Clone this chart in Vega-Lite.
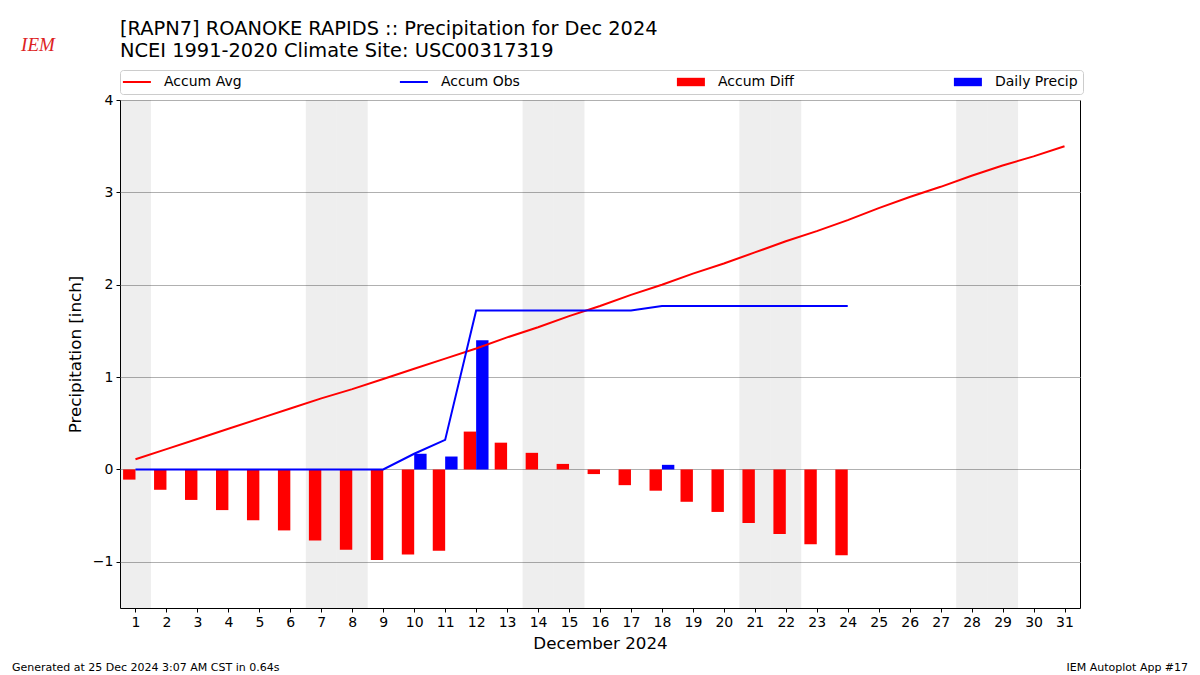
{
  "$schema": "https://vega.github.io/schema/vega-lite/v6.json",
  "width": 960,
  "height": 508,
  "autosize": {"type": "none"},
  "padding": {"left": 120, "top": 100, "right": 120, "bottom": 67},
  "background": "white",
  "config": {
    "font": "DejaVu Sans",
    "view": {"stroke": "black", "strokeWidth": 1},
    "axis": {"labelColor": "black", "titleColor": "black", "tickColor": "black"}
  },
  "title": {
    "text": ["[RAPN7] ROANOKE RAPIDS :: Precipitation for Dec 2024", "NCEI 1991-2020 Climate Site: USC00317319"],
    "anchor": "start",
    "frame": "group",
    "fontSize": 19.4,
    "fontWeight": "normal",
    "lineHeight": 22,
    "color": "black",
    "offset": -26
  },
  "datasets": {
    "days": [
      {"day": 1, "avg": 0.11, "obs": 0, "diff": -0.11, "daily": 0, "weekend": true, "footer_left": "Generated at 25 Dec 2024 3:07 AM CST in 0.64s", "footer_right": "IEM Autoplot App #17", "logo": "IEM"},
      {"day": 2, "avg": 0.22, "obs": 0, "diff": -0.22, "daily": 0, "weekend": false},
      {"day": 3, "avg": 0.33, "obs": 0, "diff": -0.33, "daily": 0, "weekend": false},
      {"day": 4, "avg": 0.44, "obs": 0, "diff": -0.44, "daily": 0, "weekend": false},
      {"day": 5, "avg": 0.55, "obs": 0, "diff": -0.55, "daily": 0, "weekend": false},
      {"day": 6, "avg": 0.66, "obs": 0, "diff": -0.66, "daily": 0, "weekend": false},
      {"day": 7, "avg": 0.77, "obs": 0, "diff": -0.77, "daily": 0, "weekend": true},
      {"day": 8, "avg": 0.87, "obs": 0, "diff": -0.87, "daily": 0, "weekend": true},
      {"day": 9, "avg": 0.98, "obs": 0, "diff": -0.98, "daily": 0, "weekend": false},
      {"day": 10, "avg": 1.09, "obs": 0.17, "diff": -0.92, "daily": 0.17, "weekend": false},
      {"day": 11, "avg": 1.20, "obs": 0.32, "diff": -0.88, "daily": 0.14, "weekend": false},
      {"day": 12, "avg": 1.31, "obs": 1.72, "diff": 0.41, "daily": 1.40, "weekend": false},
      {"day": 13, "avg": 1.43, "obs": 1.72, "diff": 0.29, "daily": 0, "weekend": false},
      {"day": 14, "avg": 1.54, "obs": 1.72, "diff": 0.18, "daily": 0, "weekend": true},
      {"day": 15, "avg": 1.66, "obs": 1.72, "diff": 0.06, "daily": 0, "weekend": true},
      {"day": 16, "avg": 1.77, "obs": 1.72, "diff": -0.05, "daily": 0, "weekend": false},
      {"day": 17, "avg": 1.89, "obs": 1.72, "diff": -0.17, "daily": 0, "weekend": false},
      {"day": 18, "avg": 2.00, "obs": 1.77, "diff": -0.23, "daily": 0.05, "weekend": false},
      {"day": 19, "avg": 2.12, "obs": 1.77, "diff": -0.35, "daily": 0, "weekend": false},
      {"day": 20, "avg": 2.23, "obs": 1.77, "diff": -0.46, "daily": 0, "weekend": false},
      {"day": 21, "avg": 2.35, "obs": 1.77, "diff": -0.58, "daily": 0, "weekend": true},
      {"day": 22, "avg": 2.47, "obs": 1.77, "diff": -0.70, "daily": 0, "weekend": true},
      {"day": 23, "avg": 2.58, "obs": 1.77, "diff": -0.81, "daily": 0, "weekend": false},
      {"day": 24, "avg": 2.70, "obs": 1.77, "diff": -0.93, "daily": 0, "weekend": false},
      {"day": 25, "avg": 2.83, "obs": null, "diff": null, "daily": null, "weekend": false},
      {"day": 26, "avg": 2.95, "obs": null, "diff": null, "daily": null, "weekend": false},
      {"day": 27, "avg": 3.06, "obs": null, "diff": null, "daily": null, "weekend": false},
      {"day": 28, "avg": 3.18, "obs": null, "diff": null, "daily": null, "weekend": true},
      {"day": 29, "avg": 3.29, "obs": null, "diff": null, "daily": null, "weekend": true},
      {"day": 30, "avg": 3.39, "obs": null, "diff": null, "daily": null, "weekend": false},
      {"day": 31, "avg": 3.50, "obs": null, "diff": null, "daily": null, "weekend": false}
    ]
  },
  "data": {"name": "days"},
  "encoding": {
    "x": {
      "field": "day",
      "type": "quantitative",
      "scale": {"domain": [0.5, 31.5], "nice": false, "zero": false, "padding": 0},
      "axis": {
        "title": "December 2024",
        "values": [1,2,3,4,5,6,7,8,9,10,11,12,13,14,15,16,17,18,19,20,21,22,23,24,25,26,27,28,29,30,31],
        "format": "d",
        "grid": false,
        "domain": false,
        "tickSize": 4,
        "labelPadding": 3,
        "labelFontSize": 14,
        "labelFlush": false,
        "labelOverlap": false,
        "titleFontSize": 16.7,
        "titleFontWeight": "normal",
        "titlePadding": 6
      }
    }
  },
  "layer": [
    {
      "transform": [{"filter": "datum.weekend"}],
      "mark": {"type": "bar", "width": 30.968, "color": "black", "opacity": 0.068},
      "encoding": {
        "y": {
          "datum": -1.5,
          "type": "quantitative",
          "scale": {"domain": [-1.5, 4], "nice": false, "zero": false, "padding": 0},
          "axis": {
            "title": "Precipitation [inch]",
            "values": [-1, 0, 1, 2, 3, 4],
            "labelExpr": "replace(format(datum.value, 'd'), '-', '\u2212')",
            "grid": true,
            "gridColor": "#b0b0b0",
            "gridWidth": 1,
            "domain": false,
            "tickSize": 4,
            "labelPadding": 3,
            "labelFontSize": 14,
            "titleFontSize": 16.7,
            "titleFontWeight": "normal",
            "titlePadding": 8
          }
        },
        "y2": {"datum": 4}
      }
    },
    {
      "transform": [{"filter": "datum.diff != null"}],
      "mark": {"type": "bar", "width": 12.4, "xOffset": -6.2},
      "encoding": {
        "y": {"field": "diff", "type": "quantitative"},
        "y2": {"datum": 0},
        "color": {"datum": "Accum Diff"}
      }
    },
    {
      "transform": [{"filter": "datum.daily > 0"}],
      "mark": {"type": "bar", "width": 12.4, "xOffset": 6.2},
      "encoding": {
        "y": {"field": "daily", "type": "quantitative"},
        "y2": {"datum": 0},
        "color": {"datum": "Daily Precip"}
      }
    },
    {
      "mark": {"type": "line", "strokeWidth": 2},
      "encoding": {
        "y": {"field": "avg", "type": "quantitative"},
        "color": {
          "datum": "Accum Avg",
          "scale": {
            "domain": ["Accum Avg", "Accum Obs", "Accum Diff", "Daily Precip"],
            "range": ["#ff0000", "#0000ff", "#ff0000", "#0000ff"]
          },
          "legend": {
            "orient": "none",
            "legendX": 0,
            "legendY": -30,
            "direction": "horizontal",
            "columns": 4,
            "gridAlign": "all",
            "columnPadding": 148,
            "padding": 5,
            "strokeColor": "#cccccc",
            "fillColor": "white",
            "cornerRadius": 3,
            "title": null,
            "labelFontSize": 14,
            "labelColor": "black",
            "labelOffset": 25,
            "labelLimit": 300,
            "symbolSize": 196,
            "encode": {
              "symbols": {
                "update": {
                  "shape": {"signal": "(datum.value == 'Accum Avg' || datum.value == 'Accum Obs') ? 'M-1.3,0H2.7' : 'M-1.3,-0.6H2.7V0.6H-1.3Z'"},
                  "fill": {"signal": "(datum.value == 'Accum Avg' || datum.value == 'Accum Obs') ? 'transparent' : (datum.value == 'Accum Diff' ? '#ff0000' : '#0000ff')"},
                  "stroke": {"signal": "(datum.value == 'Accum Avg' || datum.value == 'Accum Diff') ? '#ff0000' : '#0000ff'"},
                  "strokeWidth": {"signal": "(datum.value == 'Accum Avg' || datum.value == 'Accum Obs') ? 2 : 0"},
                  "opacity": {"value": 1}
                }
              }
            }
          }
        }
      }
    },
    {
      "transform": [{"filter": "datum.obs != null"}],
      "mark": {"type": "line", "strokeWidth": 2},
      "encoding": {
        "y": {"field": "obs", "type": "quantitative"},
        "color": {"datum": "Accum Obs"}
      }
    },
    {
      "transform": [{"filter": "datum.day == 1"}],
      "mark": {"type": "text", "align": "left", "baseline": "middle", "fontSize": 11, "color": "black", "clip": false},
      "encoding": {
        "x": {"datum": -2.99},
        "y": {"datum": -2.15},
        "text": {"field": "footer_left"}
      }
    },
    {
      "transform": [{"filter": "datum.day == 1"}],
      "mark": {"type": "text", "align": "right", "baseline": "middle", "fontSize": 11, "color": "black", "clip": false},
      "encoding": {
        "x": {"datum": 34.99},
        "y": {"datum": -2.15},
        "text": {"field": "footer_right"}
      }
    },
    {
      "transform": [{"filter": "datum.day == 1"}],
      "mark": {"type": "text", "align": "center", "baseline": "middle", "fontSize": 19, "font": "Liberation Serif", "fontStyle": "italic", "color": "#dd2222", "clip": false},
      "encoding": {
        "x": {"datum": -2.15},
        "y": {"datum": 4.6},
        "text": {"field": "logo"}
      }
    }
  ]
}
